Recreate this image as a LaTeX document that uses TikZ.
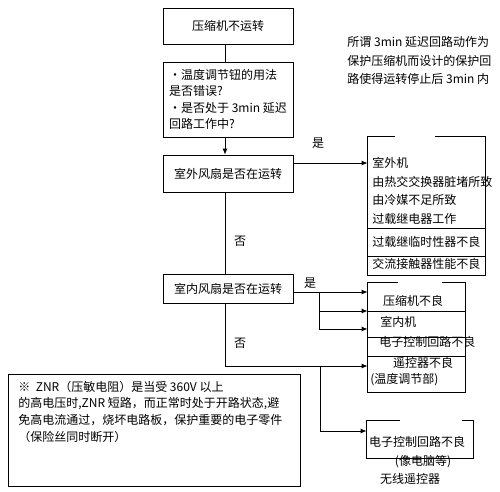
\documentclass[tikz,border=0pt]{standalone}
\usepackage{fontspec}
\setmainfont{Noto Sans CJK SC}
\usetikzlibrary{arrows.meta}
\begin{document}
\begin{tikzpicture}[x=1pt,y=-1pt, line width=0.8pt,
  box/.style={draw, inner sep=0pt},
  frame/.style={inner sep=0pt},
  txt/.style={inner sep=0pt, anchor=west},
  lbl/.style={inner sep=0pt},
  arr/.style={-{Latex[length=6pt,width=5pt]}},
  font=\fontsize{12}{16}\selectfont]
\useasboundingbox (0,0) rectangle (500,491);

% left column boxes
\node[box, minimum width=130pt, minimum height=36pt] (b1) at (228,26) {压缩机不运转};
\node[box, minimum width=130pt, minimum height=75pt, align=left, font=\fontsize{12}{16.3}\selectfont] (b2) at (228,99.5) {•温度调节钮的用法\\是否错误?\\•是否处于 3min 延迟\\回路工作中?};
\node[box, minimum width=130pt, minimum height=37pt] (b3) at (228,173.5) {室外风扇是否在运转};
\node[box, minimum width=130pt, minimum height=29pt] (b4) at (228,288.5) {室内风扇是否在运转};

\coordinate (c1) at (225,0);
\draw (b1.south -| c1) -- (b2.north -| c1);
\draw[arr] (b2.south -| c1) -- (b3.north -| c1);
\draw (b3.south -| c1) -- (b4.north -| c1);

% top-right note
\node[txt] (n1) at (347,42) {所谓 3min 延迟回路动作为};
\node[txt] (n2) at (347,60.5) {保护压缩机而设计的保护回};
\node[txt] (n3) at (347,79) {路使得运转停止后 3min 内};

% right box 1
\node[frame, minimum width=117pt, minimum height=138pt] (rb1) at (426.5,206) {};
\draw ([xshift=27pt]rb1.north west) -- (rb1.north west) -- (rb1.south west) -- (rb1.south east) -- (rb1.north east) -- ([xshift=-50pt]rb1.north east);
\coordinate (s11) at (368,228);
\coordinate (s12) at (368,256);
\draw (s11) -- (s11 -| rb1.east);
\draw (s12) -- (s12 -| rb1.east);
\node[txt] (r11) at (372,163) {室外机};
\node[txt] (r12) at (372,181.5) {由热交交换器脏堵所致};
\node[txt] (r13) at (372,200) {由冷媒不足所致};
\node[txt] (r14) at (372,219) {过载继电器工作};
\node[txt] (r15) at (372,241.5) {过载继临时性器不良};
\node[txt] (r16) at (372,264) {交流接触器性能不良};

\draw[arr] (b3.east |- r11) -- (rb1.west |- r11);
\node[lbl] (y1) at (318,143) {是};
\node[lbl] (no1) at (240,241) {否};

% right box 2
\node[frame, minimum width=97pt, minimum height=109pt] (rb2) at (416.5,337.5) {};
\draw ([xshift=30pt]rb2.north west) -- (rb2.north west) -- (rb2.south west) -- (rb2.south east) -- (rb2.north east) -- ([xshift=-23pt]rb2.north east);
\coordinate (s21) at (368,311);
\coordinate (s22) at (368,337);
\coordinate (s23) at (368,356);
\draw (s21) -- (s21 -| rb2.east);
\draw (s22) -- (s22 -| rb2.east);
\draw (s23) -- (s23 -| rb2.east);
\node[lbl] (r21) at (413,301) {压缩机不良};
\node[txt] (r22) at (380,321.5) {室内机};
\node[txt] (r23) at (379,342) {电子控制回路不良};
\node[lbl] (r24) at (423,363) {遥控器不良};
\node[txt] (r25) at (370,380) {(温度调节部)};

\coordinate (br1) at (319,292);
\coordinate (br2) at (319,311);
\coordinate (br3) at (319,329);
\draw[arr] (b4.east |- br1) -- (rb2.west |- br1);
\draw (br1) -- (br3);
\draw[arr] (br2) -- (rb2.west |- br2);
\draw[arr] (br3) -- (rb2.west |- br3);
\node[lbl] (y2) at (310,283) {是};
\node[lbl] (no2) at (240,343) {否};

\coordinate (d1) at (225,366);
\coordinate (d2) at (320,366);
\coordinate (d3) at (320,431);
\draw[arr] (b4.south -| d1) -- (d1) -- (rb2.west |- d1);

% right box 3
\node[frame, minimum width=106pt, minimum height=37pt] (rb3) at (420,439.5) {};
\draw ([xshift=33pt]rb3.north west) -- (rb3.north west) -- (rb3.south west) -- (rb3.south east) -- (rb3.north east) -- ([xshift=-11pt]rb3.north east);
\node[lbl] (r31) at (417,442) {电子控制回路不良};
\node[lbl] (r32) at (423,462) {(像电脑等)};
\node[lbl] (r33) at (410,479) {无线遥控器};
\draw[arr] (d2) -- (d3) -- (rb3.west |- d3);

% note box
\node[box, minimum width=292pt, minimum height=112pt] (nb) at (154,430) {};
\node[txt] (t1) at (18,387) {※\ \ ZNR（压敏电阻）是当受 360V 以上};
\node[txt] (t2) at (18,404) {的高电压时,ZNR 短路，而正常时处于开路状态,避};
\node[txt] (t3) at (18,420.5) {免高电流通过，烧坏电路板，保护重要的电子零件};
\node[txt] (t4) at (18,437) {（保险丝同时断开）};
\end{tikzpicture}
\end{document}
